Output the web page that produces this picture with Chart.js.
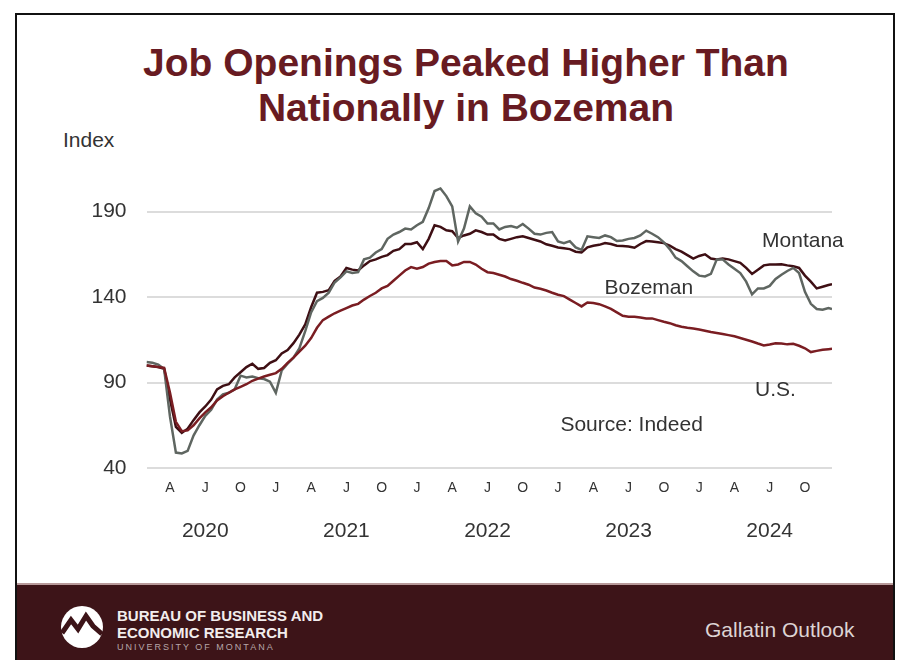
<!DOCTYPE html>
<html>
<head>
  <title>Job Openings Peaked Higher Than Nationally in Bozeman</title>
  <script src="https://cdn.jsdelivr.net/npm/chart.js"></script>
  <style>
    body {
      margin: 0;
      width: 897px;
      height: 660px;
      overflow: hidden;
      background: #fff;
      font-family: "Liberation Sans", Arial, sans-serif;
      position: relative;
    }
    #frame {
      position: absolute;
      left: 15px;
      top: 13px;
      width: 876px;
      height: 660px;
      border: 2px solid #111;
      border-bottom: none;
    }
    .title {
      position: absolute;
      left: 0;
      width: 932px;
      text-align: center;
      font-size: 39px;
      line-height: 39px;
      font-weight: bold;
      color: #681b22;
      white-space: nowrap;
    }
    #index {
      position: absolute;
      left: 63px;
      top: 129px;
      font-size: 21px;
      line-height: 21px;
      color: #333;
    }
    #chartWrapper {
      position: absolute;
      left: 0;
      top: 150px;
      width: 897px;
      height: 420px;
    }
    #footer {
      position: absolute;
      left: 17px;
      top: 583px;
      width: 876px;
      height: 77px;
      background: #3d1418;
      border-top: 2px solid #b89a9a;
    }
    .foot {
      position: absolute;
      white-space: nowrap;
      color: #f2eded;
    }
  </style>
</head>
<body>
  <div id="frame"></div>
  <div class="title" style="top:43px">Job Openings Peaked Higher Than</div>
  <div class="title" style="top:88px">Nationally in Bozeman</div>
  <div id="index">Index</div>

  <div id="chartWrapper">
    <canvas id="jobChart" width="897" height="420"></canvas>
  </div>

  <div id="footer"></div>
  <svg style="position:absolute;left:60px;top:605px" width="44" height="44" viewBox="0 0 44 44">
    <circle cx="22" cy="22" r="21" fill="#fff"/>
    <polyline points="2,28 11,15 18,24 26,11 33,21 42,29" fill="none" stroke="#3d1418" stroke-width="5" stroke-linejoin="miter"/>
  </svg>
  <div class="foot" style="left:117px;top:608px;font-size:15px;line-height:15px;font-weight:bold">BUREAU OF BUSINESS AND</div>
  <div class="foot" style="left:117px;top:625px;font-size:15px;line-height:15px;font-weight:bold">ECONOMIC RESEARCH</div>
  <div class="foot" style="left:117px;top:643px;font-size:9px;line-height:9px;letter-spacing:2px;color:#b7a6a8">UNIVERSITY OF MONTANA</div>
  <div class="foot" style="left:705px;top:619px;font-size:21px;line-height:21px;color:#ddd4d4">Gallatin Outlook</div>

  <script>
    // months since Jan 1 2020 (1 = Feb 1 2020), twice a month
    const monthPos = [
      1, 1.5, 2, 2.5, 3, 3.5, 4, 4.5, 5, 5.5,
      6, 6.5, 7, 7.5, 8, 8.5, 9, 9.5, 10, 10.5,
      11, 11.5, 12, 12.5, 13, 13.5, 14, 14.5, 15, 15.5,
      16, 16.5, 17, 17.5, 18, 18.5, 19, 19.5, 20, 20.5,
      21, 21.5, 22, 22.5, 23, 23.5, 24, 24.5, 25, 25.5,
      26, 26.5, 27, 27.5, 28, 28.5, 29, 29.5, 30, 30.5,
      31, 31.5, 32, 32.5, 33, 33.5, 34, 34.5, 35, 35.5,
      36, 36.5, 37, 37.5, 38, 38.5, 39, 39.5, 40, 40.5,
      41, 41.5, 42, 42.5, 43, 43.5, 44, 44.5, 45, 45.5,
      46, 46.5, 47, 47.5, 48, 48.5, 49, 49.5, 50, 50.5,
      51, 51.5, 52, 52.5, 53, 53.5, 54, 54.5, 55, 55.5,
      56, 56.5, 57, 57.5, 58, 58.5, 59, 59.3
    ];

    const montana = [
      100, 99.5, 99, 98, 80, 64, 60.5, 63, 68, 72.5,
      76, 80, 86, 88, 89, 93, 96, 99, 101, 98,
      98.5, 101.5, 103, 107, 109, 113, 118, 124, 134, 142.5,
      143, 144, 149.5, 152, 157, 156, 155.5, 158.5, 161, 162,
      163.5, 164.5, 167, 168, 171, 171, 172, 168, 174, 182,
      181, 179, 178.5, 174.5, 176, 177, 179, 178, 176.5, 176.5,
      174, 173, 174, 175, 175.5, 174.5, 173.5, 172.5, 170.8, 170,
      169, 168.5, 168, 166.5, 166, 169, 170, 170.5, 171.5, 171,
      170, 169.8, 169.5, 168.8, 171, 172.7, 172.5, 172, 171.5, 170,
      168, 166.5, 164.5, 162.5, 164, 165, 162.5, 162, 162.5, 162,
      161, 160, 157, 153.5, 156, 158.5, 159, 159, 159.2, 158.5,
      158, 157, 152.5, 149, 145, 146, 147, 147.4
    ];

    const us = [
      100, 99.5, 99, 98.5, 84, 67, 61.5, 62, 65, 69,
      72.5, 75.5, 79.5, 82, 84, 86, 87.5, 89, 91, 92.3,
      93.5, 94.5, 95.5, 98, 101.5, 104.5, 108, 111.5, 116, 122,
      126.5, 128.5, 130.5, 132, 133.5, 135, 136, 138.5, 140.6, 142.5,
      145, 146.5, 149.5, 152.5, 155.5, 157.5, 156.5, 157.5, 159.5, 160.5,
      161, 161, 158.5, 159, 160.5, 160.5, 159, 156.5, 154.5, 154,
      153, 152, 150.5, 149.5, 148.3, 147.2, 145.5, 144.8, 143.8, 142.5,
      141.3, 140.5, 138.5, 136.5, 134.5, 136.8, 136.5, 135.8, 134.5, 133,
      131, 129, 128.5, 128.5, 128, 127.5, 127.5, 126.5, 125.5, 124.7,
      123.5, 122.6, 122, 121.6, 121, 120.3, 119.5, 119, 118.4, 117.7,
      117, 116, 115, 114, 112.8, 111.7, 112.2, 113, 112.8, 112.3,
      112.6, 111.5, 110, 107.8, 108.5, 109.2, 109.5, 109.7
    ];

    const bozeman = [
      102, 101.5, 100.5, 98, 70, 49, 48.5, 50, 59, 65,
      70.5, 74, 80, 83, 84, 86, 94, 93, 93.5, 92.5,
      92, 90.5, 84, 97, 101, 104.5, 110, 120, 131, 137.5,
      139.5, 142.5, 148.5, 151.5, 155, 154, 154.5, 162, 163, 166,
      168, 174, 176.5, 178, 180, 179.5, 182, 184, 192, 202,
      203.5, 199, 193, 172.5, 180, 193, 189, 187, 183, 183,
      179.5, 181, 181.5, 180.5, 182.7, 180, 177, 176.5, 177.5, 178,
      172.5, 171.5, 172.7, 169, 167.5, 175.5, 175, 174.5, 176, 175,
      172.7, 173, 174, 174.5, 176, 178.8, 177, 175, 172, 168,
      163, 161, 158, 155, 152.5, 152, 153.5, 162, 162, 159,
      156.5, 154, 149, 141.5, 145, 145, 146.5, 150.5, 153, 155.2,
      157, 154, 143, 136, 133, 132.5, 133.5, 133
    ];

    const yTicks = [40, 90, 140, 190];
    const tickMonths = [3, 6, 9, 12, 15, 18, 21, 24, 27, 30, 33, 36, 39, 42, 45, 48, 51, 54, 57];
    const tickLabels = ['A', 'J', 'O', 'J', 'A', 'J', 'O', 'J', 'A', 'J', 'O', 'J', 'A', 'J', 'O', 'J', 'A', 'J', 'O'];
    const years = ['2020', '2021', '2022', '2023', '2024'];
    const yearCenters = [6, 18, 30, 42, 54];

    // text notes placed in data coordinates (month, index)
    const notes = [
      { text: 'Montana', m: 53.35, v: 172.7 },
      { text: 'Bozeman', m: 39.95, v: 145.3 },
      { text: 'U.S.', m: 52.75, v: 85.6 },
      { text: 'Source: Indeed', m: 36.2, v: 64.9 }
    ];

    const fontFamily = '"Liberation Sans", Arial, sans-serif';
    Chart.defaults.font.family = fontFamily;

    const toPoints = vals => vals.map((v, i) => ({ x: monthPos[i], y: v }));

    const textPlugin = {
      id: 'textPlugin',
      afterDraw(chart) {
        const { ctx, scales: { x, y } } = chart;
        ctx.save();
        ctx.fillStyle = '#333';
        ctx.textBaseline = 'middle';
        ctx.textAlign = 'left';
        ctx.font = '21px ' + fontFamily;
        notes.forEach(n => ctx.fillText(n.text, x.getPixelForValue(n.m), y.getPixelForValue(n.v)));
        ctx.textAlign = 'center';
        years.forEach((yr, i) => ctx.fillText(yr, x.getPixelForValue(yearCenters[i]), y.bottom + 63));
        ctx.restore();
      }
    };

    const ctx = document.getElementById('jobChart').getContext('2d');
    const jobChart = new Chart(ctx, {
      type: 'line',
      data: {
        datasets: [
          {
            label: 'U.S.',
            data: toPoints(us),
            borderColor: '#7a1d22',
            borderWidth: 2.5,
            pointRadius: 0,
            fill: false,
            tension: 0
          },
          {
            label: 'Bozeman',
            data: toPoints(bozeman),
            borderColor: '#5f6661',
            borderWidth: 2.5,
            pointRadius: 0,
            fill: false,
            tension: 0
          },
          {
            label: 'Montana',
            data: toPoints(montana),
            borderColor: '#3e0f14',
            borderWidth: 2.5,
            pointRadius: 0,
            fill: false,
            tension: 0
          }
        ]
      },
      options: {
        responsive: false,
        animation: false,
        devicePixelRatio: 1,
        layout: { padding: { top: 18.75, right: 65, left: 0, bottom: 0 } },
        plugins: {
          legend: { display: false },
          tooltip: { enabled: false }
        },
        scales: {
          x: {
            type: 'linear',
            min: 1,
            max: 59.3,
            afterBuildTicks: s => { s.ticks = tickMonths.map(v => ({ value: v })); },
            afterFit: s => {
              s.height = 102;
              s.paddingLeft = 0;
              s.paddingRight = 0;
            },
            ticks: {
              autoSkip: false,
              maxRotation: 0,
              padding: 4,
              color: '#333',
              font: { size: 14 },
              callback: (v, i) => tickLabels[i]
            },
            grid: { display: false },
            border: { display: false }
          },
          y: {
            min: 40,
            max: 215,
            afterBuildTicks: s => { s.ticks = yTicks.map(v => ({ value: v })); },
            afterFit: s => {
              s.width = 146.5;
              s.paddingTop = 0;
              s.paddingBottom = 0;
            },
            ticks: {
              padding: 20,
              color: '#333',
              font: { size: 21 }
            },
            grid: { color: '#dcdcdc', lineWidth: 2, drawTicks: false },
            border: { display: false }
          }
        }
      },
      plugins: [textPlugin]
    });
  </script>
</body>
</html>
